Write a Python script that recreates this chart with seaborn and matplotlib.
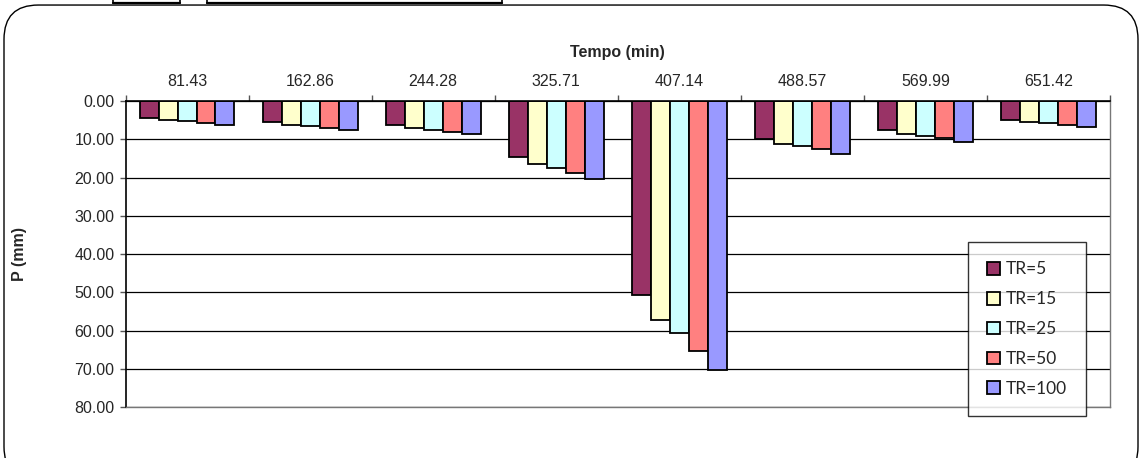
import pandas as pd
import numpy as np
import matplotlib
matplotlib.use('Agg')
import matplotlib.pyplot as plt
import seaborn as sns
from matplotlib.patches import FancyBboxPatch
from matplotlib.lines import Line2D

# chart values
tempo = ['81.43', '162.86', '244.28', '325.71', '407.14', '488.57', '569.99', '651.42']
tr_labels = ['TR=5', 'TR=15', 'TR=25', 'TR=50', 'TR=100']
tr5 = [4.3, 5.4, 6.3, 14.6, 50.7, 9.8, 7.6, 4.8]
tr15 = [4.9, 6.1, 7.1, 16.5, 57.3, 11.1, 8.5, 5.4]
tr25 = [5.2, 6.4, 7.6, 17.4, 60.5, 11.6, 9.0, 5.8]
tr50 = [5.7, 7.0, 8.1, 18.9, 65.4, 12.5, 9.7, 6.2]
tr100 = [6.1, 7.5, 8.7, 20.4, 70.4, 13.7, 10.6, 6.7]
colors = ['#993366', '#FFFFCC', '#CCFFFF', '#FF8080', '#9999FF']

rows = []
for lab, vals in zip(tr_labels, [tr5, tr15, tr25, tr50, tr100]):
    for t, v in zip(tempo, vals):
        rows.append({'tempo': t, 'P': v, 'TR': lab})
df = pd.DataFrame(rows)

sns.set_style('white')
plt.rcParams['font.family'] = ['Liberation Sans', 'DejaVu Sans']

fig = plt.figure(figsize=(11.41, 4.58), dpi=100)
ax = fig.add_axes([0.110, 0.111, 0.863, 0.668])

sns.barplot(data=df, x='tempo', y='P', hue='TR', order=tempo, hue_order=tr_labels,
            palette=colors, saturation=1, width=0.77, edgecolor='black', linewidth=1.3,
            errorbar=None, ax=ax)

ax.set_ylim(80, 0)
ax.set_xlim(-0.5, len(tempo) - 0.5)
ax.set_yticks(np.arange(0, 81, 10))
ax.set_yticklabels([f'{v:.2f}' for v in np.arange(0, 81, 10)], fontsize=11.5)
ax.yaxis.grid(True, color='black', linewidth=0.9)
ax.set_axisbelow(True)

# category axis on top
ax.xaxis.tick_top()
ax.xaxis.set_label_position('top')
ax.set_xticks(range(len(tempo)))
ax.set_xticklabels(tempo, fontsize=11.5)
ax.tick_params(axis='x', length=0, pad=9)
ax.set_xticks(np.arange(-0.5, len(tempo), 1), minor=True)
ax.tick_params(axis='x', which='minor', length=4, width=1, color='#555555', top=True, bottom=False)
ax.tick_params(axis='y', length=4, width=1, left=True, color='#555555', pad=4)
ax.set_xlabel('Tempo (min)', fontsize=11.5, fontweight='bold', labelpad=12)
ax.set_ylabel('P (mm)', fontsize=11.5, fontweight='bold', labelpad=34)

for s in ['top', 'left']:
    ax.spines[s].set_color('black')
    ax.spines[s].set_linewidth(1.2)
for s in ['right', 'bottom']:
    ax.spines[s].set_color('#777777')
    ax.spines[s].set_linewidth(1.0)

handles, labels = ax.get_legend_handles_labels()
leg = ax.legend(handles, labels, loc='lower left', bbox_to_anchor=(968 / 1141, 42 / 458),
                bbox_transform=fig.transFigure, frameon=True, fancybox=False,
                edgecolor='black', fontsize=12.5, labelspacing=0.8, handlelength=0.75,
                handleheight=0.75, handletextpad=0.35, borderpad=1.1, borderaxespad=0)
leg.get_frame().set_linewidth(1.0)
for t in leg.get_texts():
    t.set_family(['Lato', 'DejaVu Sans'])

# rounded chart frame
frame = FancyBboxPatch((4 / 1141, -0.05), 1134 / 1141, 1.039,
                       boxstyle='round,pad=0,rounding_size=0.03', transform=fig.transFigure,
                       facecolor='none', edgecolor='black', linewidth=1.0, zorder=-1,
                       mutation_aspect=1141 / 458)
fig.patches.append(frame)

# remnants of the table above the chart
for x0, x1 in [(113, 180), (207, 502)]:
    fig.add_artist(Line2D([x0 / 1141, x1 / 1141], [455.5 / 458, 455.5 / 458], color='black', lw=1.6))
    for xx in (x0, x1):
        fig.add_artist(Line2D([xx / 1141, xx / 1141], [455.5 / 458, 1], color='black', lw=1.2))

fig.savefig('out.png', dpi=100)
